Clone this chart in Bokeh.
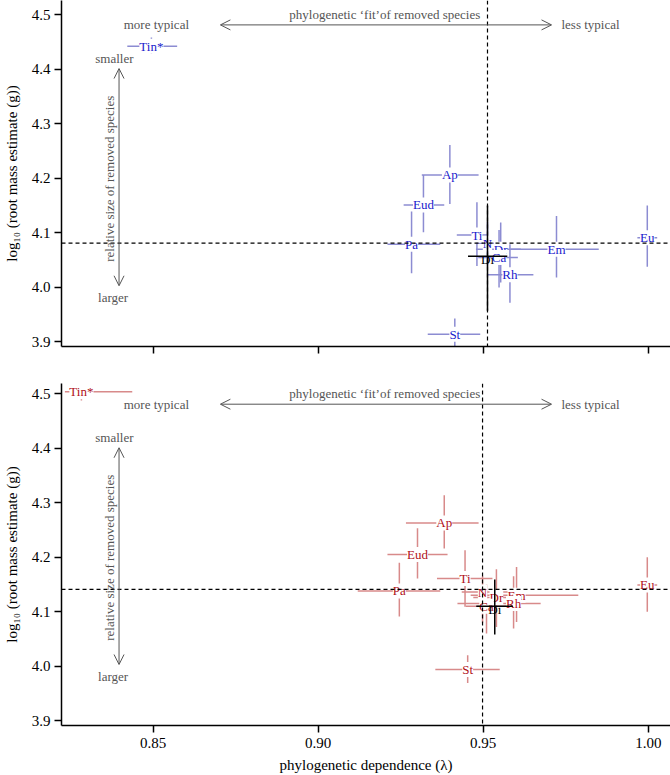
from bokeh.plotting import figure
from bokeh.layouts import column
from bokeh.models import (Span, Label, Arrow, OpenHead, FixedTicker,
                          PrintfTickFormatter, CustomJSTickFormatter, ColumnDataSource)
from bokeh.core.properties import value
from bokeh.embed import file_html
from bokeh.resources import INLINE
import math

# ---------------- data ----------------
# panel (a)
species_a = ["Tin*", "Ap", "Eud", "Pa", "Ti", "N", "Dr", "Ca", "Rh", "Em", "Eu", "St"]
lam_a     = [0.8495, 0.9399, 0.9319, 0.9283, 0.9481, 0.9513, 0.9553, 0.9548, 0.9581, 0.9722, 0.9997, 0.9414]
lam_lo_a  = [0.8422, 0.9314, 0.9259, 0.9210, 0.9420, 0.9480, 0.9478, 0.9485, 0.9513, 0.9583, 0.9967, 0.9332]
lam_hi_a  = [0.8573, 0.9486, 0.9382, 0.9370, 0.9513, 0.9550, 0.9614, 0.9605, 0.9652, 0.9850, 1.0027, 0.9491]
mass_a    = [4.442, 4.206, 4.151, 4.079, 4.096, 4.081, 4.070, 4.055, 4.023, 4.070, 4.091, 3.914]
mass_lo_a = [4.428, 4.153, 4.101, 4.026, 4.039, 4.040, 4.009, 4.000, 3.972, 4.018, 4.038, 3.880]
mass_hi_a = [4.458, 4.261, 4.206, 4.139, 4.156, 4.120, 4.119, 4.105, 4.079, 4.131, 4.150, 3.943]
di_a      = dict(lam=0.9513, lam_lo=0.9454, lam_hi=0.9573, mass=4.057, mass_lo=3.957, mass_hi=4.150)
ref_lam_a, ref_mass_a = 0.9513, 4.081

# panel (b)
species_b = ["Tin*", "Ap", "Eud", "Pa", "Ti", "N", "Dr", "Em", "Rh", "Ca", "Eu", "St"]
lam_b     = [0.8283, 0.9382, 0.9301, 0.9246, 0.9445, 0.9498, 0.9540, 0.9601, 0.9592, 0.9510, 0.9997, 0.9453]
lam_lo_b  = [0.8233, 0.9266, 0.9210, 0.9120, 0.9360, 0.9435, 0.9470, 0.9462, 0.9422, 0.9447, 0.9967, 0.9355]
lam_hi_b  = [0.8437, 0.9486, 0.9392, 0.9370, 0.9528, 0.9597, 0.9600, 0.9788, 0.9674, 0.9605, 1.0027, 0.9550]
mass_b    = [4.504, 4.263, 4.205, 4.138, 4.161, 4.136, 4.126, 4.130, 4.115, 4.110, 4.149, 3.994]
mass_lo_b = [4.488, 4.216, 4.161, 4.091, 4.109, 4.080, 4.072, 4.081, 4.069, 4.060, 4.100, 3.969]
mass_hi_b = [4.512, 4.314, 4.253, 4.190, 4.213, 4.165, 4.178, 4.182, 4.165, 4.150, 4.200, 4.020]
di_b      = dict(lam=0.9535, lam_lo=0.9479, lam_hi=0.9590, mass=4.110, mass_lo=4.058, mass_hi=4.159)
ref_lam_b, ref_mass_b = 0.9498, 4.141

y_ticks = [3.9, 4.0, 4.1, 4.2, 4.3, 4.4, 4.5]
x_ticks = [0.85, 0.90, 0.95, 1.00]

FONT = "Liberation Serif"
GRAY = "#555555"


def style_axes(p, show_x_labels):
    p.outline_line_color = None
    p.grid.visible = False
    for ax in (p.xaxis[0], p.yaxis[0]):
        ax.axis_line_width = 1.5
        ax.axis_line_color = "black"
        ax.major_tick_line_width = 1.5
        ax.major_tick_line_color = "black"
        ax.major_tick_out = 7
        ax.major_tick_in = 0
        ax.minor_tick_line_color = None
        ax.major_label_text_font = FONT
        ax.major_label_text_font_size = "15px"
        ax.major_label_text_color = "black"
        ax.axis_label_text_font = FONT
        ax.axis_label_text_font_size = "15px"
        ax.axis_label_text_font_style = "normal"
        ax.axis_label_text_color = "black"
    p.yaxis.ticker = FixedTicker(ticks=y_ticks)
    p.yaxis.formatter = PrintfTickFormatter(format="%.1f")
    p.yaxis.major_label_standoff = 4
    p.yaxis.axis_label_standoff = 9
    p.yaxis.axis_label = "log\u2081\u2080 (root mass estimate (g))"
    p.xaxis.ticker = FixedTicker(ticks=x_ticks)
    if show_x_labels:
        p.xaxis.formatter = PrintfTickFormatter(format="%.2f")
        p.xaxis.major_label_standoff = 5
        p.xaxis.axis_label_standoff = 6
        p.xaxis.axis_label = "phylogenetic dependence (\u03bb)"
    else:
        p.xaxis.formatter = CustomJSTickFormatter(code="return '';")


def add_annotations(p, tag):
    p.add_layout(Label(x=0.8068, y=4.507, text=tag, text_font=FONT, text_font_size="15px",
                       text_font_style="italic", text_align="center", text_baseline="middle"))
    p.add_layout(Label(x=0.9202, y=4.5, text="phylogenetic \u2018fit\u2019of removed species",
                       text_font=FONT, text_font_size="13px", text_color=GRAY,
                       text_align="center", text_baseline="middle"))
    p.add_layout(Label(x=0.851, y=4.481, text="more typical", text_font=FONT,
                       text_font_size="13px", text_color=GRAY,
                       text_align="center", text_baseline="middle"))
    p.add_layout(Label(x=0.9825, y=4.481, text="less typical", text_font=FONT,
                       text_font_size="13px", text_color=GRAY,
                       text_align="center", text_baseline="middle"))
    p.add_layout(Arrow(x_start=0.8704, y_start=4.481, x_end=0.9707, y_end=4.481,
                       line_color=GRAY, line_width=1,
                       start=OpenHead(size=10, line_color=GRAY, line_width=1),
                       end=OpenHead(size=10, line_color=GRAY, line_width=1)))
    p.add_layout(Label(x=0.8383, y=4.419, text="smaller", text_font=FONT,
                       text_font_size="13px", text_color=GRAY,
                       text_align="center", text_baseline="middle"))
    p.add_layout(Label(x=0.8379, y=3.981, text="larger", text_font=FONT,
                       text_font_size="13px", text_color=GRAY,
                       text_align="center", text_baseline="middle"))
    p.add_layout(Arrow(x_start=0.8397, y_start=4.003, x_end=0.8397, y_end=4.401,
                       line_color=GRAY, line_width=1,
                       start=OpenHead(size=10, line_color=GRAY, line_width=1),
                       end=OpenHead(size=10, line_color=GRAY, line_width=1)))
    p.add_layout(Label(x=0.8368, y=4.199, text="relative size of removed species",
                       angle=math.pi / 2, text_font=FONT, text_font_size="13px",
                       text_color=GRAY, text_align="center", text_baseline="middle"))


def add_points(p, names, lam, lam_lo, lam_hi, mass, mass_lo, mass_hi, di,
               ref_lam, ref_mass, text_col, bar_col):
    p.add_layout(Span(location=ref_lam, dimension="height", line_color="black",
                      line_width=1.2, line_dash="4 3"))
    p.add_layout(Span(location=ref_mass, dimension="width", line_color="black",
                      line_width=1.2, line_dash="4 3"))
    src = ColumnDataSource(dict(name=names, x=lam, xlo=lam_lo, xhi=lam_hi,
                                y=mass, ylo=mass_lo, yhi=mass_hi))
    p.segment(x0="xlo", y0="y", x1="xhi", y1="y", source=src,
              line_color=bar_col, line_width=1.5)
    p.segment(x0="x", y0="ylo", x1="x", y1="yhi", source=src,
              line_color=bar_col, line_width=1.5)
    p.text(x="x", y="y", text="name", source=src, text_font=value(FONT),
           text_font_size="13px", text_color=text_col, text_align="center",
           text_baseline="middle", background_fill_color="white")
    dsrc = ColumnDataSource(dict(name=["Di"], x=[di["lam"]], xlo=[di["lam_lo"]],
                                 xhi=[di["lam_hi"]], y=[di["mass"]],
                                 ylo=[di["mass_lo"]], yhi=[di["mass_hi"]]))
    p.segment(x0="xlo", y0="y", x1="xhi", y1="y", source=dsrc,
              line_color="black", line_width=1.5)
    p.segment(x0="x", y0="ylo", x1="x", y1="yhi", source=dsrc,
              line_color="black", line_width=1.5)
    p.text(x="x", y="y", text="name", source=dsrc, text_font=value(FONT),
           text_font_size="13px", text_color="black", text_align="center",
           text_baseline="middle", y_offset=3)


X_RANGE = (0.82227, 1.00673)

p1 = figure(width=670, height=376, x_range=X_RANGE, y_range=(3.8917, 4.5257),
            min_border_left=60, min_border_right=0, min_border_top=0,
            min_border_bottom=30, output_backend="svg", toolbar_location=None)
style_axes(p1, False)
add_points(p1, species_a, lam_a, lam_lo_a, lam_hi_a, mass_a, mass_lo_a, mass_hi_a,
           di_a, ref_lam_a, ref_mass_a, "#1a1acc", "#8c8cd2")
add_annotations(p1, "(a)")

p2 = figure(width=670, height=399, x_range=X_RANGE, y_range=(3.891, 4.519),
            min_border_left=60, min_border_right=0, min_border_top=7,
            min_border_bottom=50, output_backend="svg", toolbar_location=None)
style_axes(p2, True)
add_points(p2, species_b, lam_b, lam_lo_b, lam_hi_b, mass_b, mass_lo_b, mass_hi_b,
           di_b, ref_lam_b, ref_mass_b, "#b01018", "#d88a8a")
add_annotations(p2, "(b)")

layout = column(p1, p2, spacing=0)
open("out.html", "w").write(file_html(layout, INLINE))
